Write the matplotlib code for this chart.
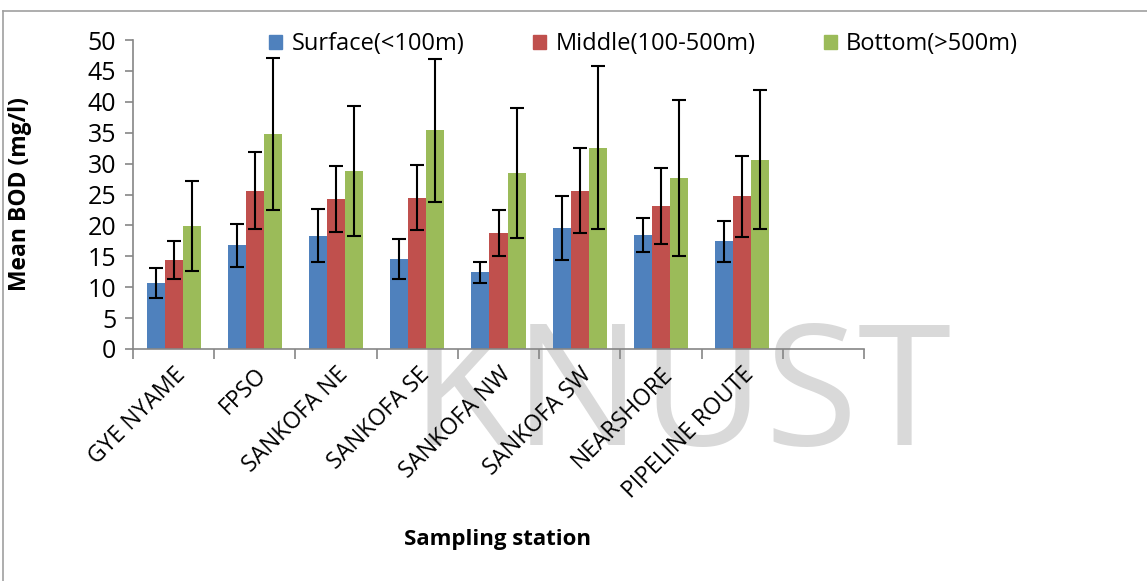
import numpy as np
import matplotlib
matplotlib.use("Agg")
import matplotlib.pyplot as plt
from matplotlib.patches import Patch
from matplotlib.lines import Line2D

plt.rcParams['font.family'] = ['Open Sans', 'DejaVu Sans']

# data
stations = ["GYE NYAME", "FPSO", "SANKOFA NE", "SANKOFA SE", "SANKOFA NW",
            "SANKOFA SW", "NEARSHORE", "PIPELINE ROUTE"]
series = ["Surface(<100m)", "Middle(100-500m)", "Bottom(>500m)"]
surface = [10.7, 16.8, 18.3, 14.5, 12.4, 19.6, 18.4, 17.4]
middle = [14.4, 25.6, 24.3, 24.5, 18.8, 25.6, 23.1, 24.7]
bottom = [19.9, 34.8, 28.8, 35.4, 28.5, 32.6, 27.7, 30.6]
surface_err = [2.45, 3.5, 4.3, 3.25, 1.75, 5.2, 2.75, 3.25]
middle_err = [3.15, 6.25, 5.3, 5.25, 3.7, 6.85, 6.15, 6.55]
bottom_err = [7.25, 12.3, 10.5, 11.55, 10.5, 13.25, 12.6, 11.25]
colors = ["#4F81BD", "#C0504D", "#9BBB59"]

fig = plt.figure(figsize=(11.47, 5.81), dpi=100)
ax = fig.add_axes([133/1147, 1-349/581, (864-133)/1147, (349-40)/581])
ax.patch.set_alpha(0)

# watermark behind the chart
fig.text(0.358, 1-445/581, "KNUST", fontsize=122, color="#d9d9d9",
         fontweight="normal", zorder=-5, va="baseline", ha="left")

x = np.arange(len(stations))
w = 1/4.5
vals = [surface, middle, bottom]
errs = [surface_err, middle_err, bottom_err]
for i in range(3):
    ax.bar(x + (i-1)*w, vals[i], w, color=colors[i], zorder=2,
           yerr=errs[i], capsize=5,
           error_kw=dict(ecolor="black", elinewidth=1.5, capthick=1.5, zorder=3))

ax.set_xlim(-0.5, len(stations) + 0.5)
ax.set_ylim(0, 50)
ax.set_yticks(range(0, 51, 5))
ax.set_xticks(x)
ax.set_xticklabels(stations, rotation=45, ha="right", rotation_mode="anchor", fontsize=16.5)
ax.set_xticks(np.arange(-0.5, len(stations) + 1), minor=True)
ax.tick_params(axis="x", which="major", length=0, pad=10)
ax.tick_params(axis="x", which="minor", length=7, color="#868686", width=1.2)
ax.tick_params(axis="y", length=6, color="#868686", width=1.2, labelsize=18, pad=6)

for s in ["top", "right"]:
    ax.spines[s].set_visible(False)
for s in ["left", "bottom"]:
    ax.spines[s].set_color("#868686")
    ax.spines[s].set_linewidth(1.2)

ax.set_ylabel("Mean BOD (mg/l)", fontsize=16.5, fontweight="bold")
ax.yaxis.set_label_coords((32-133)/731, 0.5)
fig.text(497/1147, 1-540/581, "Sampling station", fontsize=16, fontweight="bold",
         ha="center", va="center")

handles = [Patch(color=c) for c in colors]
fig.legend(handles, series, loc="center left", bbox_to_anchor=(248/1147, 1-44/581),
           ncol=3, frameon=False, fontsize=17, handlelength=0.55, handleheight=0.55,
           handletextpad=0.4, columnspacing=2.9)

# outer frame
fig.add_artist(Line2D([3/1147, 1], [1-11/581, 1-11/581], color="#a0a0a0", lw=1.2))
fig.add_artist(Line2D([3/1147, 3/1147], [0, 1-11/581], color="#a0a0a0", lw=1.2))

fig.savefig("out.png", dpi=100)
